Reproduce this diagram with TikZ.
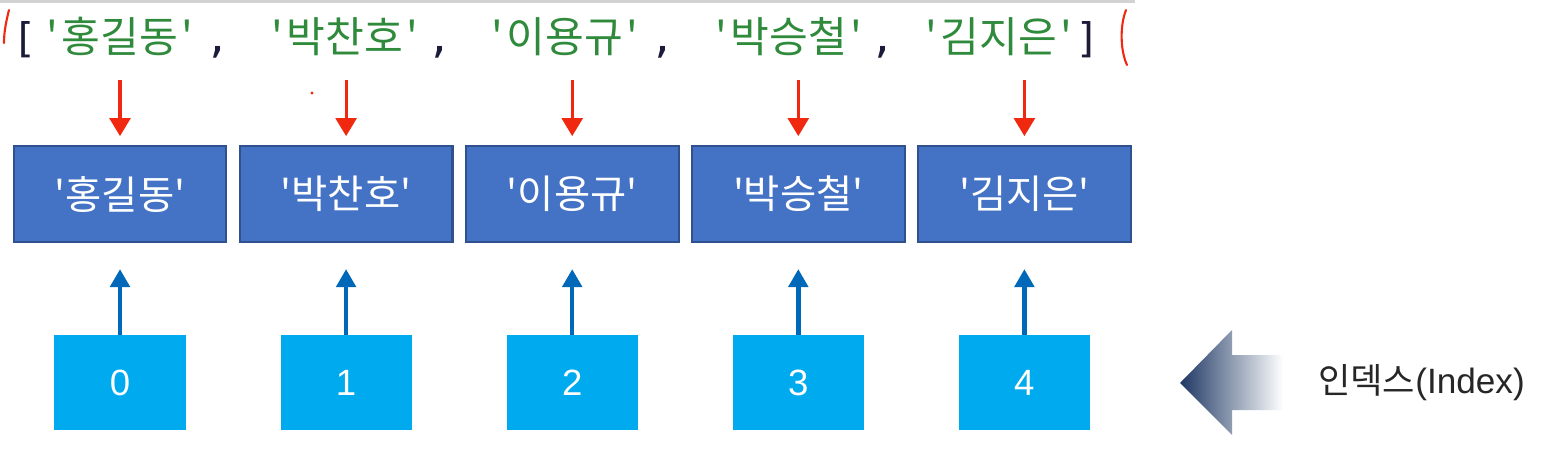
\documentclass[tikz,border=0pt]{standalone}
\usepackage{fontspec}
\setmainfont{Noto Sans CJK KR}[Ligatures=TeXOff]
\newfontfamily\codefont{DejaVu Sans Mono}[Ligatures=TeXOff]
\newfontfamily\latfont{Liberation Sans}[Ligatures=TeXOff]
\usepackage{xcolor}
\usetikzlibrary{arrows.meta}
\definecolor{codegreen}{HTML}{2F8A3C}
\definecolor{codedark}{HTML}{1C1C3A}
\definecolor{cellblue}{HTML}{4472C4}
\definecolor{cellline}{HTML}{2F528F}
\definecolor{idxblue}{HTML}{00AAEE}
\definecolor{upblue}{HTML}{0068B8}
\definecolor{downred}{HTML}{F02810}
\definecolor{navy}{HTML}{1F3864}
\newcommand{\qt}{\hspace{0.08em}'\hspace{0.08em}}

\begin{document}
\begin{tikzpicture}[x=0.025cm,y=-0.025cm,
   code/.style={inner sep=0pt,anchor=base,font=\fontsize{30}{32}\selectfont,text=codegreen},
   punct/.style={inner sep=0pt,anchor=base,font=\codefont\fontsize{29}{31}\selectfont,text=codedark},
   cell/.style={draw=cellline,line width=1.5pt,fill=cellblue,minimum width=5.32cm,minimum height=2.4cm,
                inner sep=0pt,text=white,font=\fontsize{28}{30}\selectfont},
   idx/.style={fill=idxblue,minimum width=3.275cm,minimum height=2.375cm,inner sep=0pt,
               text=white,font=\latfont\fontsize{26}{28}\selectfont},
   down/.style={-{Triangle[width=0.52cm,length=0.45cm]},draw=downred,line width=2.2pt,
                shorten <=0.6cm,shorten >=0.22cm},
   up/.style={-{Triangle[width=0.48cm,length=0.45cm]},draw=upblue,line width=3.2pt,shorten >=0.65cm},
   penmark/.style={draw=downred,line width=1.5pt,line cap=round}]
  \useasboundingbox (0,0) rectangle (1544,455);
  \fill[white] (0,0) rectangle (1544,455);

  % ---- editor line (top) ----
  \draw[gray!35,line width=2.5pt] (0,1.5) -- (1135,1.5);
  \node[punct] (lbr) at (25,52) {[};
  \node[punct] (rbr) at (1088,52) {]};
  \foreach \i/\x/\s in {0/118/홍길동,1/343/박찬호,2/563/이용규,3/787/박승철,4/997/김지은}
    {\node[code] (src\i) at (\x,52) {\qt\s\qt};}
  \foreach \x [count=\k] in {218,440,663,883}
    {\node[punct] (comma\k) at (\x,52) {,};}
  % hand marks
  \draw[penmark] (9,10) .. controls (6,22) and (4,32) .. (4,43);
  \draw[penmark] (1126,10) .. controls (1120,25) and (1120,50) .. (1127,65);
  \fill[downred] (312,93) circle (1.1pt);

  % ---- list cells and indices ----
  \foreach \i/\s in {0/홍길동,1/박찬호,2/이용규,3/박승철,4/김지은}{
    \node[cell] (cell\i) at ({120+226.1*\i},194) {'\s'};
    \node[idx] (idx\i) at ({120+226.1*\i},382.5) {\i};
  }
  \foreach \i in {0,...,4}{
    \draw[down] (src\i.south -| cell\i.north) -- (cell\i.north);
    \draw[up] (idx\i) -- (cell\i);
  }

  % ---- index label ----
  \shade[left color=navy,right color=white] (1180,383) -- (1232,330) -- (1232,355) -- (1283,355)
     -- (1283,410) -- (1232,410) -- (1232,435) -- cycle;
  \node[anchor=west,inner sep=0pt,text=black!85,font=\fontsize{25}{28}\selectfont] (idxlabel) at (1318,383)
     {인덱스{\latfont(Index)}};
\end{tikzpicture}
\end{document}
